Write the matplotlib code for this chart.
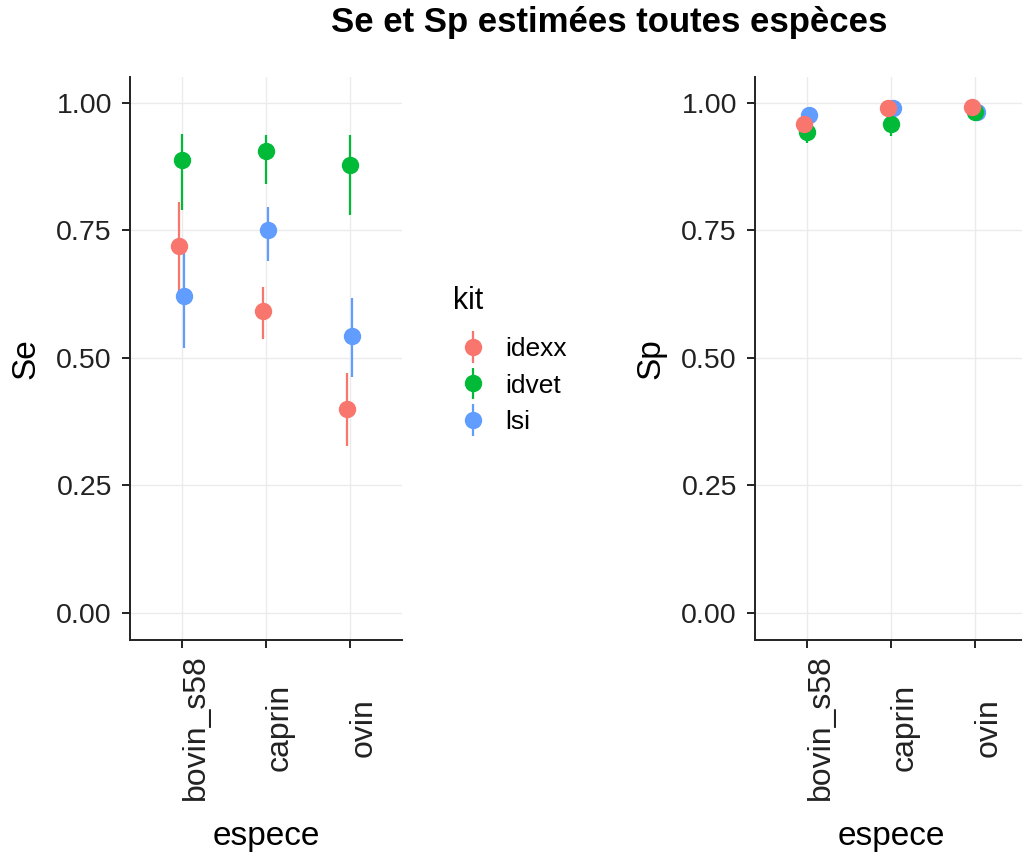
"""
Se et Sp estimees par kit et par espece (pointrange a la ggplot).
"""

import numpy as np
import matplotlib.pyplot as plt
from matplotlib.transforms import ScaledTranslation
from matplotlib.legend_handler import HandlerErrorbar

plt.rcParams['font.family'] = ['Liberation Sans', 'DejaVu Sans']

especes = ["bovin_s58", "caprin", "ovin"]
kits = ["idexx", "idvet", "lsi"]
kit_colors = ["#F8766D", "#00BA38", "#619CFF"]

# Se (estimate, lower, upper) for bovin_s58, caprin, ovin
se_idexx = [0.720, 0.593, 0.400]
se_idexx_low = [0.627, 0.537, 0.327]
se_idexx_high = [0.805, 0.640, 0.471]
se_idvet = [0.888, 0.905, 0.878]
se_idvet_low = [0.790, 0.841, 0.780]
se_idvet_high = [0.939, 0.937, 0.937]
se_lsi = [0.622, 0.750, 0.543]
se_lsi_low = [0.519, 0.690, 0.463]
se_lsi_high = [0.715, 0.797, 0.617]

# Sp (estimate, lower, upper)
sp_idexx = [0.959, 0.990, 0.992]
sp_idexx_low = [0.940, 0.975, 0.980]
sp_idexx_high = [0.975, 1.000, 1.000]
sp_idvet = [0.944, 0.958, 0.983]
sp_idvet_low = [0.922, 0.936, 0.970]
sp_idvet_high = [0.963, 0.975, 0.993]
sp_lsi = [0.976, 0.990, 0.982]
sp_lsi_low = [0.960, 0.975, 0.970]
sp_lsi_high = [0.988, 0.998, 0.992]

se_data = [(se_idexx, se_idexx_low, se_idexx_high),
           (se_idvet, se_idvet_low, se_idvet_high),
           (se_lsi, se_lsi_low, se_lsi_high)]
sp_data = [(sp_idexx, sp_idexx_low, sp_idexx_high),
           (sp_idvet, sp_idvet_low, sp_idvet_high),
           (sp_lsi, sp_lsi_low, sp_lsi_high)]

dodge = [-0.03, 0.0, 0.03]
yticks = [0.0, 0.25, 0.5, 0.75, 1.0]
dark = "#222222"

W, H = 1022, 852
fig = plt.figure(figsize=(W / 100, H / 100), dpi=100)


def panel(left_px, data, ylabel):
    ax = fig.add_axes([left_px / W, 1 - 640 / H, 272 / W, 563 / H])
    x = np.arange(1, len(especes) + 1)
    handles = []
    for i, (est, low, high) in enumerate(data):
        est = np.array(est)
        yerr = [est - np.array(low), np.array(high) - est]
        c = ax.errorbar(x + dodge[i], est, yerr=yerr, fmt="o", color=kit_colors[i],
                        ms=11.5, elinewidth=1.6, capsize=0)
        c[2][0].set_zorder(2)
        c[0].set_zorder(5 - i)
        handles.append(c)
    ax.set_xlim(0.385, 3.62)
    ax.set_ylim(-0.053, 1.051)
    ax.set_xticks(x)
    ax.set_xticklabels(especes, rotation=90, va="center", fontsize=23, color=dark)
    ax.set_yticks(yticks)
    ax.set_yticklabels([f"{v:.2f}" for v in yticks], fontsize=20.5, color=dark)
    ax.tick_params(axis="x", length=6, width=1.4, color=dark, pad=57)
    ax.tick_params(axis="y", length=6, width=1.4, color=dark, pad=7)
    for lbl in ax.get_xticklabels():
        lbl.set_transform(lbl.get_transform() + ScaledTranslation(10 / 72, 0, fig.dpi_scale_trans))
    ax.grid(True, color="#EBEBEB", lw=1.0)
    ax.set_axisbelow(True)
    for s in ["top", "right"]:
        ax.spines[s].set_visible(False)
    for s in ["left", "bottom"]:
        ax.spines[s].set_linewidth(1.4)
        ax.spines[s].set_color(dark)
    ax.set_xlabel("espece", fontsize=24)
    ax.xaxis.set_label_coords(0.5, -0.322)
    ax.set_ylabel(ylabel, fontsize=24)
    ax.yaxis.set_label_coords(-0.324, 0.5)
    return ax, handles


ax1, handles = panel(130, se_data, "Se")
ax2, _ = panel(755, sp_data, "Sp")

fig.text(0.5964, 1 - 31.7 / H, "Se et Sp estimées toutes espèces", fontsize=25,
         fontweight="bold", ha="center", va="baseline")

fig.text(453 / W, 1 - 309 / H, "kit", fontsize=22, ha="left", va="baseline")
fig.legend(handles, kits, loc="upper left",
           bbox_to_anchor=(455 / W, 1 - 337 / H), frameon=False, fontsize=19,
           numpoints=1, borderpad=0, borderaxespad=0, handlelength=1.36,
           handletextpad=0.53, labelspacing=0.48,
           handler_map={type(handles[0]): HandlerErrorbar(yerr_size=0.6)})

fig.savefig("out.png", dpi=100)
